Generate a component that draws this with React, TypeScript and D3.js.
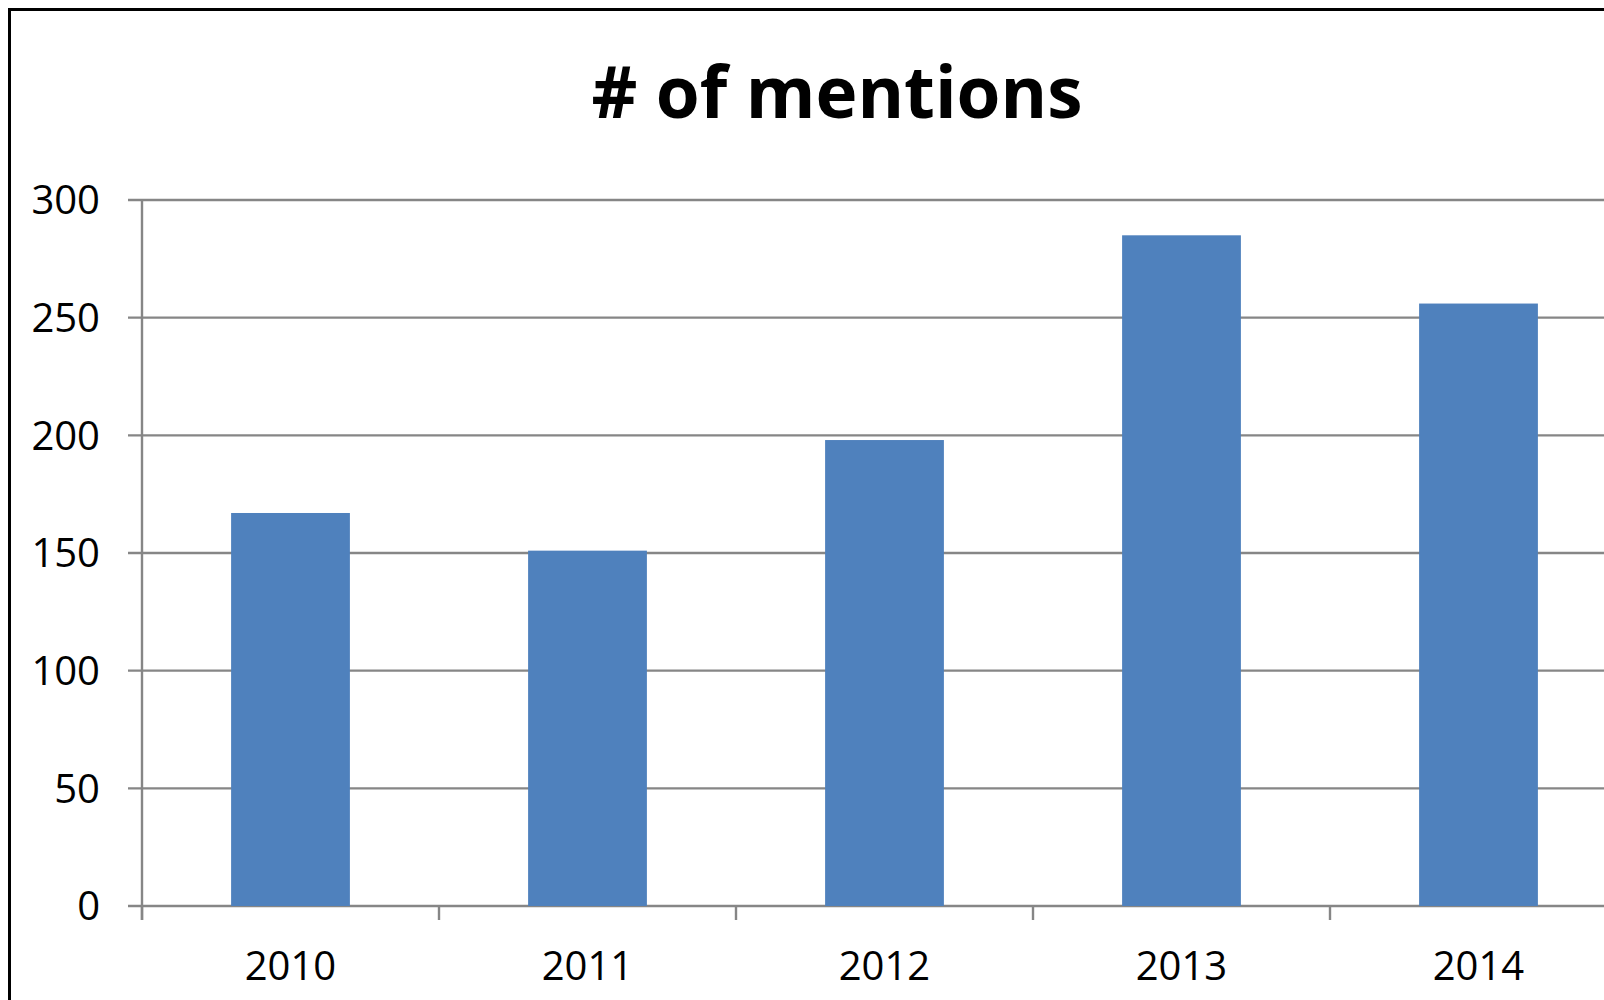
import React from "react";
import * as d3 from "d3";

const categories = ["2010", "2011", "2012", "2013", "2014"];
const mentions = [167, 151, 198, 285, 256];
const yTicks = [0, 50, 100, 150, 200, 250, 300];
const title = "# of mentions";

const W = 1604;
const H = 1000;
const FONT = "'Open Sans', Lato, sans-serif";

export default function App() {
  const x = d3.scaleBand<string>().domain(categories).range([142, 1627]).paddingInner(0).paddingOuter(0);
  const y = d3.scaleLinear().domain([0, 300]).range([906, 200]);
  const bw = x.bandwidth() * 0.4;
  const grid = "#868686";
  const boundaries = categories.map((c) => x(c) as number);

  return (
    <svg width={W} height={H} style={{ position: "fixed", left: 0, top: 0, background: "#fff" }}>
      <rect x={0} y={0} width={W} height={H} fill="#fff" />
      {/* gridlines */}
      {yTicks.map((t) => (
        <line key={"g" + t} x1={128} x2={W} y1={y(t)} y2={y(t)} stroke={grid} strokeWidth={2.4} />
      ))}
      {/* y axis */}
      <line x1={142} x2={142} y1={y(300)} y2={y(0) + 14} stroke={grid} strokeWidth={2.4} />
      {/* x ticks */}
      {boundaries.map((b, i) => (
        <line key={"xt" + i} x1={b} x2={b} y1={y(0)} y2={y(0) + 14} stroke={grid} strokeWidth={2.4} />
      ))}
      {/* bars */}
      {categories.map((c, i) => {
        const cx = (x(c) as number) + x.bandwidth() / 2;
        return (
          <rect
            key={c}
            x={cx - bw / 2}
            y={y(mentions[i])}
            width={bw}
            height={y(0) - y(mentions[i])}
            fill="#4F81BD"
          />
        );
      })}
      {/* y labels */}
      {yTicks.map((t) => (
        <text
          key={"yl" + t}
          x={100}
          y={y(t)}
          dy="0.36em"
          textAnchor="end"
          fontFamily={FONT}
          fontSize={40}
          fill="#000"
        >
          {t}
        </text>
      ))}
      {/* x labels */}
      {categories.map((c) => (
        <text
          key={"xl" + c}
          x={(x(c) as number) + x.bandwidth() / 2}
          y={980}
          textAnchor="middle"
          fontFamily={FONT}
          fontSize={40}
          fill="#000"
        >
          {c}
        </text>
      ))}
      {/* title */}
      <text x={837} y={118} textAnchor="middle" fontFamily={FONT} fontWeight="bold" fontSize={71} fill="#000">
        {title}
      </text>
      {/* border (left and top) */}
      <rect x={9.5} y={9.5} width={W + 20} height={H + 20} fill="none" stroke="#000" strokeWidth={3} />
    </svg>
  );
}
